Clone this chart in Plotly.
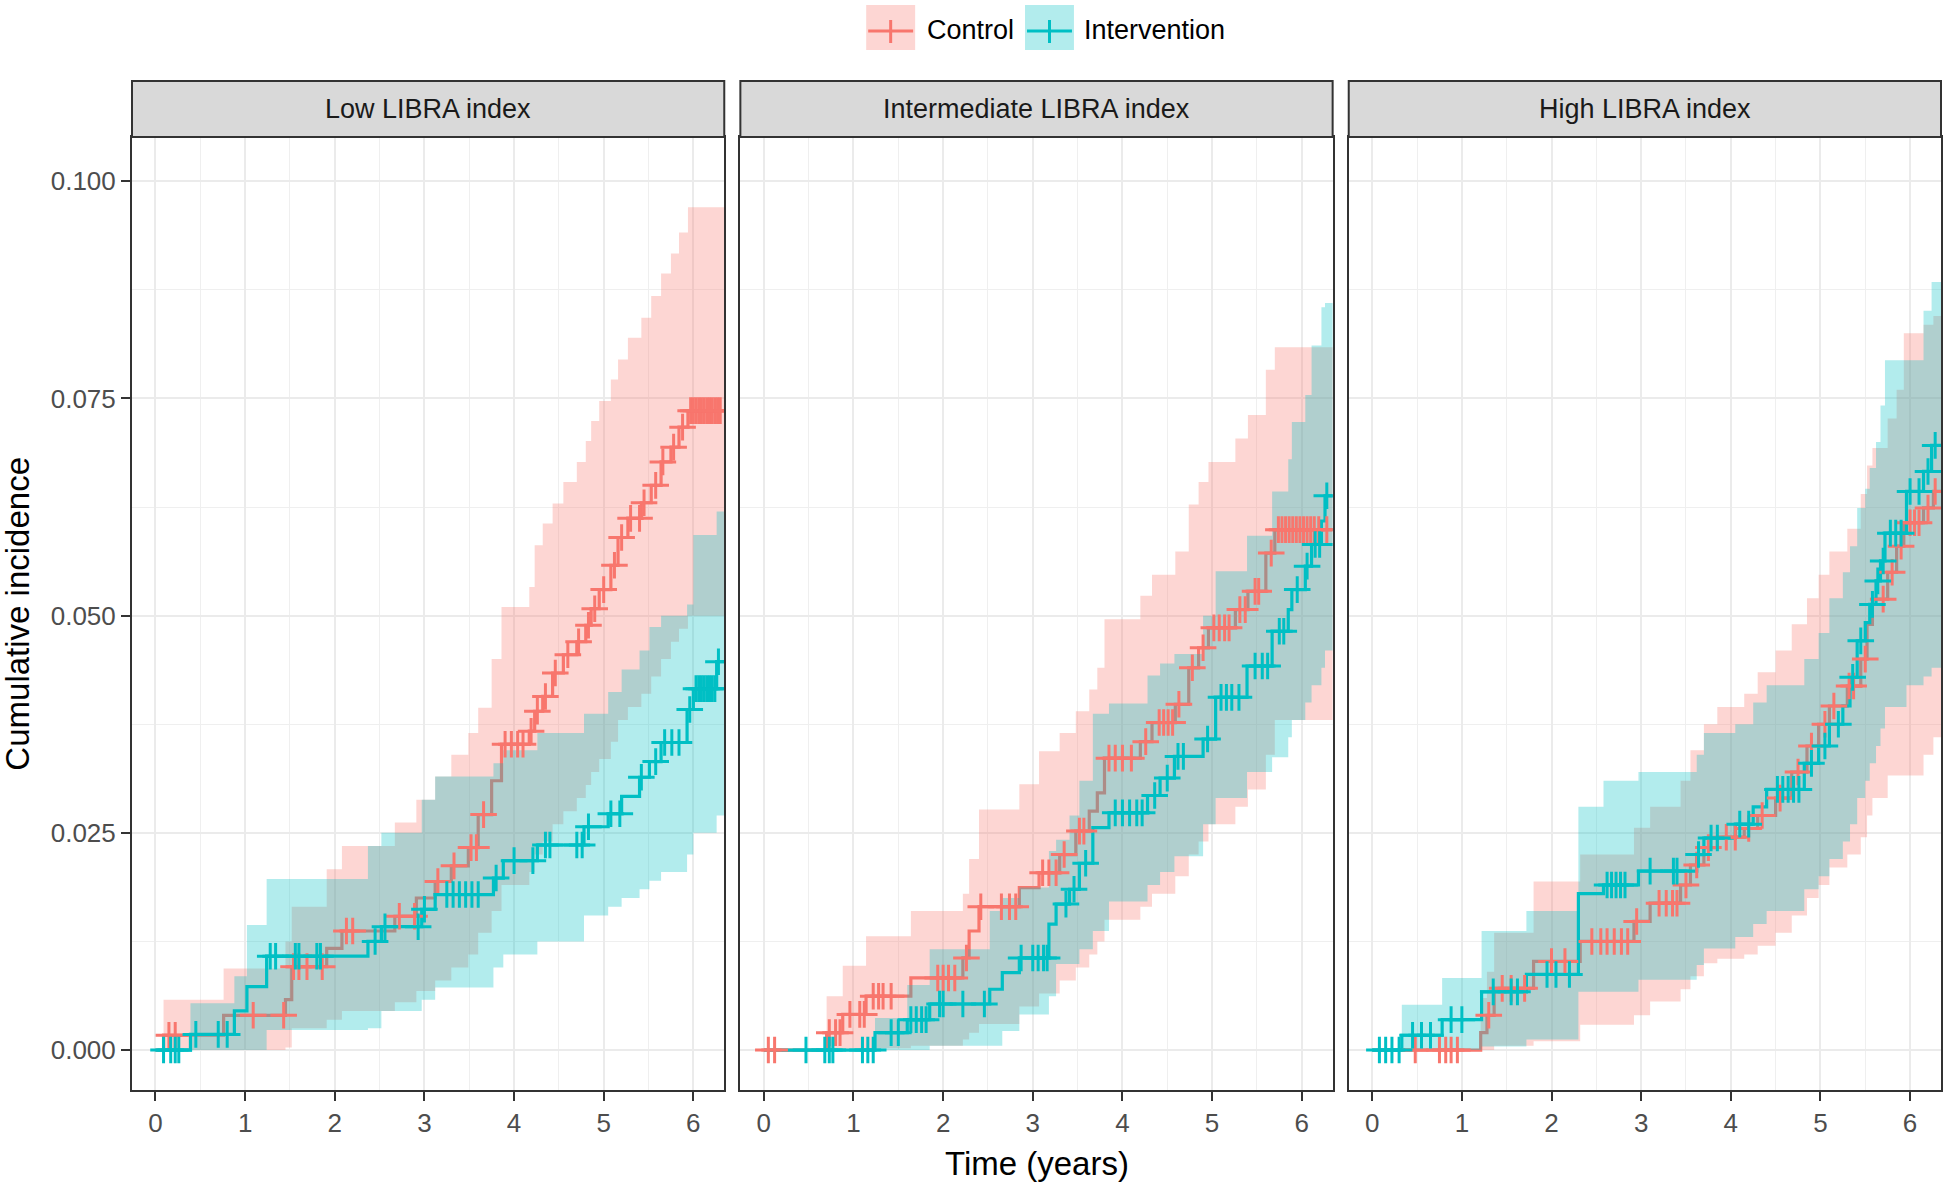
import numpy as np
import plotly.graph_objects as go

# ---------------- data ----------------
PANELS = ["Low LIBRA index", "Intermediate LIBRA index", "High LIBRA index"]
GROUPS = ["Control", "Intervention"]

# Low LIBRA index - Control
low_ctrl_t = [0, 0.09, 0.76, 1.45, 1.52, 1.91, 2.08, 2.67, 2.91, 3.12, 3.30, 3.49, 3.60, 3.75, 3.86, 4.17, 4.23,
              4.32, 4.43, 4.55, 4.70, 4.80, 4.86, 4.95, 5.08, 5.16, 5.27, 5.42, 5.53, 5.64, 5.75, 5.84, 5.94]
low_ctrl_est = [0, 0.0017, 0.0040, 0.0058, 0.0096, 0.0117, 0.0137, 0.0154, 0.0175, 0.0194, 0.0212, 0.0233, 0.0271,
                0.0310, 0.0352, 0.0367, 0.0390, 0.0407, 0.0434, 0.0455, 0.0470, 0.0489, 0.0508, 0.0530, 0.0558,
                0.0590, 0.0612, 0.0630, 0.0650, 0.0677, 0.0694, 0.0717, 0.0736]
low_ctrl_hi = [0, 0.0058, 0.0094, 0.0125, 0.0165, 0.0208, 0.0235, 0.0262, 0.0288, 0.0315, 0.0340, 0.0365, 0.0394,
               0.0450, 0.0510, 0.0533, 0.0581, 0.0606, 0.0629, 0.0654, 0.0677, 0.0701, 0.0724, 0.0747, 0.0772,
               0.0795, 0.0820, 0.0843, 0.0868, 0.0894, 0.0917, 0.0941, 0.0970]
low_ctrl_lo = [0, 0, 0, 0.0003, 0.0025, 0.0035, 0.0045, 0.0055, 0.0068, 0.0080, 0.0095, 0.0110, 0.0135, 0.0160,
               0.0190, 0.0205, 0.0225, 0.0240, 0.0260, 0.0275, 0.0290, 0.0305, 0.0320, 0.0335, 0.0355, 0.0380,
               0.0395, 0.0410, 0.0430, 0.0450, 0.0470, 0.0485, 0.0500]
low_ctrl_cens = [0.15, 0.22, 1.09, 1.43, 1.54, 1.60, 1.69, 1.86, 2.13, 2.20, 2.72, 2.89, 3.15, 3.33, 3.52, 3.58,
                 3.66, 3.90, 3.97, 4.04, 4.10, 4.19, 4.26, 4.35, 4.46, 4.60, 4.72, 4.83, 4.90, 5.00, 5.12, 5.20,
                 5.30, 5.40, 5.45, 5.58, 5.66, 5.78, 5.88, 5.97, 6.00, 6.03, 6.06, 6.09, 6.12, 6.15, 6.18, 6.21,
                 6.24, 6.27, 6.30]

# Low LIBRA index - Intervention
low_int_t = [0, 0.39, 0.88, 1.02, 1.24, 2.37, 2.52, 2.97, 3.12, 3.77, 3.88, 4.26, 4.78, 5.05, 5.20, 5.40, 5.51,
             5.64, 5.93, 6.00, 6.26]
low_int_est = [0, 0.0018, 0.0045, 0.0073, 0.0108, 0.0125, 0.0142, 0.0162, 0.0179, 0.0198, 0.0218, 0.0236, 0.0257,
               0.0272, 0.0292, 0.0314, 0.0332, 0.0354, 0.0392, 0.0416, 0.0447]
low_int_hi = [0, 0.0054, 0.0085, 0.0144, 0.0197, 0.0235, 0.0250, 0.0288, 0.0315, 0.0330, 0.0345, 0.0365, 0.0387,
              0.0412, 0.0438, 0.0460, 0.0487, 0.0500, 0.0513, 0.0593, 0.0620]
low_int_lo = [0, 0, 0, 0, 0.0023, 0.0025, 0.0045, 0.0058, 0.0072, 0.0095, 0.0110, 0.0125, 0.0155, 0.0165, 0.0175,
              0.0185, 0.0195, 0.0205, 0.0225, 0.0250, 0.0270]
low_int_cens = [0.09, 0.17, 0.22, 0.26, 0.45, 0.70, 0.80, 1.28, 1.34, 1.56, 1.60, 1.80, 1.84, 2.45, 2.56, 2.93,
                3.00, 3.25, 3.32, 3.39, 3.46, 3.53, 3.60, 3.80, 4.00, 4.21, 4.35, 4.40, 4.70, 4.76, 4.83, 5.08,
                5.18, 5.42, 5.58, 5.68, 5.76, 5.84, 5.96, 6.03, 6.06, 6.09, 6.12, 6.15, 6.18, 6.21, 6.24, 6.28]

# Intermediate LIBRA index - Control
mid_ctrl_t = [0, 0.70, 0.88, 1.14, 1.64, 2.22, 2.29, 2.40, 2.85, 3.07, 3.30, 3.48, 3.63, 3.72, 3.80, 4.20, 4.33,
              4.59, 4.74, 4.85, 4.96, 5.26, 5.40, 5.60, 5.70]
mid_ctrl_est = [0, 0.0020, 0.0041, 0.0062, 0.0083, 0.0106, 0.0137, 0.0165, 0.0187, 0.0204, 0.0225, 0.0252, 0.0275,
                0.0296, 0.0336, 0.0355, 0.0377, 0.0398, 0.0440, 0.0463, 0.0486, 0.0507, 0.0528, 0.0572, 0.0599]
mid_ctrl_hi = [0, 0.0062, 0.0097, 0.0131, 0.0160, 0.0180, 0.0220, 0.0277, 0.0306, 0.0344, 0.0365, 0.0390, 0.0415,
               0.0440, 0.0496, 0.0523, 0.0547, 0.0574, 0.0628, 0.0654, 0.0677, 0.0704, 0.0731, 0.0783, 0.0809]
mid_ctrl_lo = [0, 0, 0, 0.0002, 0.0005, 0.0012, 0.0020, 0.0030, 0.0050, 0.0065, 0.0080, 0.0095, 0.0110, 0.0125,
               0.0150, 0.0165, 0.0180, 0.0200, 0.0225, 0.0240, 0.0260, 0.0280, 0.0300, 0.0340, 0.0380]
mid_ctrl_cens = [0.05, 0.12, 0.73, 0.80, 0.85, 0.96, 1.07, 1.12, 1.22, 1.28, 1.33, 1.42, 1.94, 2.00, 2.06, 2.13,
                 2.26, 2.42, 2.65, 2.74, 2.81, 3.11, 3.18, 3.26, 3.35, 3.52, 3.57, 3.85, 3.92, 4.00, 4.10, 4.26,
                 4.41, 4.46, 4.51, 4.56, 4.63, 4.78, 4.90, 5.02, 5.08, 5.14, 5.19, 5.31, 5.37, 5.48, 5.52, 5.66,
                 5.74, 5.78, 5.82, 5.86, 5.90, 5.94, 5.98, 6.02, 6.06, 6.10, 6.14, 6.19, 6.28]

# Intermediate LIBRA index - Intervention
mid_int_t = [0, 1.24, 1.60, 1.85, 2.52, 2.66, 2.85, 3.18, 3.26, 3.41, 3.52, 3.67, 3.85, 4.28, 4.42, 4.58, 4.90,
             5.04, 5.39, 5.67, 5.85, 5.89, 6.04, 6.11, 6.22, 6.26]
mid_int_est = [0, 0.0020, 0.0035, 0.0053, 0.0070, 0.0089, 0.0106, 0.0145, 0.0168, 0.0185, 0.0215, 0.0256, 0.0273,
               0.0293, 0.0313, 0.0338, 0.0358, 0.0406, 0.0442, 0.0482, 0.0507, 0.0530, 0.0557, 0.0582, 0.0609,
               0.0638]
mid_int_hi = [0, 0.0037, 0.0075, 0.0116, 0.0160, 0.0175, 0.0187, 0.0229, 0.0242, 0.0270, 0.0310, 0.0387, 0.0399,
              0.0431, 0.0445, 0.0456, 0.0500, 0.0551, 0.0592, 0.0643, 0.0680, 0.0723, 0.0754, 0.0811, 0.0855, 0.0860]
mid_int_lo = [0, 0, 0, 0.0005, 0.0005, 0.0022, 0.0041, 0.0062, 0.0099, 0.0099, 0.0116, 0.0137, 0.0171, 0.0190,
              0.0205, 0.0223, 0.0260, 0.0290, 0.0320, 0.0337, 0.0360, 0.0380, 0.0400, 0.0420, 0.0440, 0.0460]
mid_int_cens = [0.47, 0.68, 0.73, 0.77, 1.10, 1.16, 1.22, 1.42, 1.50, 1.64, 1.70, 1.76, 1.81, 1.96, 2.00, 2.22,
                2.46, 2.87, 3.00, 3.06, 3.12, 3.16, 3.37, 3.46, 3.59, 3.92, 4.00, 4.08, 4.16, 4.22, 4.36, 4.50,
                4.62, 4.68, 4.95, 5.10, 5.16, 5.22, 5.30, 5.48, 5.56, 5.62, 5.75, 5.80, 5.95, 6.06, 6.15, 6.20, 6.28]

# High LIBRA index - Control
high_ctrl_t = [0, 1.21, 1.28, 1.36, 1.80, 2.32, 2.92, 3.10, 3.44, 3.55, 3.70, 3.85, 4.15, 4.30, 4.50, 4.68, 4.85,
               4.98, 5.10, 5.30, 5.45, 5.52, 5.58, 5.75, 5.85, 5.93, 6.15, 6.26]
high_ctrl_est = [0, 0.0020, 0.0040, 0.0071, 0.0102, 0.0125, 0.0148, 0.0169, 0.0190, 0.0213, 0.0233, 0.0245,
                 0.0255, 0.0270, 0.0290, 0.0320, 0.0350, 0.0375, 0.0396, 0.0419, 0.0450, 0.0490, 0.0519, 0.0550,
                 0.0580, 0.0607, 0.0624, 0.0643]
high_ctrl_hi = [0, 0.0060, 0.0090, 0.0135, 0.0194, 0.0225, 0.0256, 0.0280, 0.0310, 0.0345, 0.0375, 0.0395, 0.0410,
                0.0435, 0.0460, 0.0490, 0.0520, 0.0547, 0.0574, 0.0600, 0.0640, 0.0673, 0.0693, 0.0727, 0.0760,
                0.0825, 0.0835, 0.0845]
high_ctrl_lo = [0, 0, 0, 0.0005, 0.0010, 0.0029, 0.0040, 0.0056, 0.0070, 0.0085, 0.0100, 0.0105, 0.0110, 0.0120,
                0.0135, 0.0155, 0.0175, 0.0190, 0.0210, 0.0225, 0.0245, 0.0270, 0.0290, 0.0316, 0.0316, 0.0316,
                0.0340, 0.0360]
high_ctrl_cens = [0.48, 0.75, 0.82, 0.88, 0.95, 1.30, 1.45, 1.55, 1.70, 2.00, 2.15, 2.45, 2.55, 2.62, 2.70, 2.78,
                  2.85, 2.95, 3.20, 3.28, 3.35, 3.40, 3.50, 3.62, 3.75, 3.95, 4.05, 4.20, 4.35, 4.55, 4.75, 4.90,
                  5.05, 5.15, 5.32, 5.37, 5.50, 5.70, 5.80, 5.90, 6.00, 6.05, 6.10, 6.20, 6.28]

# High LIBRA index - Intervention
high_int_t = [0, 0.33, 0.78, 1.22, 1.72, 2.30, 2.58, 2.97, 3.62, 3.70, 4.05, 4.25, 4.40, 4.82, 4.98, 5.10, 5.25,
              5.33, 5.41, 5.50, 5.55, 5.62, 5.67, 5.72, 5.96, 6.15, 6.24]
high_int_est = [0, 0.0017, 0.0035, 0.0067, 0.0087, 0.0180, 0.0190, 0.0206, 0.0225, 0.0244, 0.0260, 0.0280, 0.0300,
                0.0330, 0.0350, 0.0375, 0.0396, 0.0429, 0.0471, 0.0492, 0.0513, 0.0540, 0.0563, 0.0595, 0.0643,
                0.0666, 0.0696]
high_int_hi = [0, 0.0052, 0.0083, 0.0137, 0.0160, 0.0280, 0.0310, 0.0320, 0.0340, 0.0365, 0.0375, 0.0400, 0.0420,
               0.0450, 0.0480, 0.0520, 0.0550, 0.0580, 0.0624, 0.0646, 0.0670, 0.0700, 0.0742, 0.0794, 0.0794,
               0.0851, 0.0884]
high_int_lo = [0, 0, 0, 0.0004, 0.0012, 0.0067, 0.0067, 0.0081, 0.0098, 0.0117, 0.0130, 0.0145, 0.0160, 0.0185,
               0.0200, 0.0220, 0.0240, 0.0260, 0.0290, 0.0310, 0.0330, 0.0350, 0.0370, 0.0395, 0.0420, 0.0430,
               0.0440]
high_int_cens = [0.08, 0.15, 0.22, 0.30, 0.45, 0.55, 0.65, 0.88, 1.00, 1.35, 1.55, 1.62, 1.95, 2.05, 2.20, 2.62,
                 2.67, 2.72, 2.77, 2.82, 3.10, 3.36, 3.40, 3.64, 3.78, 3.85, 4.10, 4.20, 4.52, 4.58, 4.64, 4.70,
                 4.76, 4.90, 5.05, 5.20, 5.36, 5.45, 5.58, 5.64, 5.70, 5.78, 5.84, 5.90, 6.00, 6.10, 6.20, 6.28]

X_TICKS = [0, 1, 2, 3, 4, 5, 6]
Y_TICKS = [0.0, 0.025, 0.05, 0.075, 0.1]
X_TITLE = "Time (years)"
Y_TITLE = "Cumulative incidence"

SERIES = [
    [(low_ctrl_t, low_ctrl_est, low_ctrl_lo, low_ctrl_hi, low_ctrl_cens),
     (low_int_t, low_int_est, low_int_lo, low_int_hi, low_int_cens)],
    [(mid_ctrl_t, mid_ctrl_est, mid_ctrl_lo, mid_ctrl_hi, mid_ctrl_cens),
     (mid_int_t, mid_int_est, mid_int_lo, mid_int_hi, mid_int_cens)],
    [(high_ctrl_t, high_ctrl_est, high_ctrl_lo, high_ctrl_hi, high_ctrl_cens),
     (high_int_t, high_int_est, high_int_lo, high_int_hi, high_int_cens)],
]

# ---------------- style ----------------
W, H = 1946, 1183
ML, MR, MT, MB = 132, 3, 137, 93
COLORS = ["#F8766D", "#00BFC4"]
FILLS = ["rgba(248,118,109,0.30)", "rgba(0,191,196,0.30)"]
FONT = "Liberation Sans, Arial, sans-serif"
BORDER = "#333333"
END_T = 6.6
XR = [-0.262, 6.345]
YR = [-0.0046, 0.1051]
DOMAINS = [[0.0, 0.3274], [0.3363, 0.6637], [0.6726, 1.0]]

PW = W - ML - MR
PH = H - MT - MB


def px2x(px):
    return (px - ML) / PW


def px2y(py):
    return (H - MB - py) / PH


def ext(t, v):
    return list(t) + [END_T], list(v) + [v[-1]]


def step_at(t, v, q):
    idx = np.searchsorted(np.asarray(t), np.asarray(q), side="right") - 1
    return np.asarray(v)[idx]


fig = go.Figure()

for p in range(3):
    xa = "x" if p == 0 else f"x{p + 1}"
    ya = "y" if p == 0 else f"y{p + 1}"
    groups = SERIES[p]
    for g, (t, est, lo, hi, cens) in enumerate(groups):
        xs, los = ext(t, lo)
        _, his = ext(t, hi)
        _, ests = ext(t, est)
        fig.add_trace(go.Scatter(x=xs, y=los, mode="lines", line=dict(width=0, shape="hv", color=COLORS[g]),
                                 xaxis=xa, yaxis=ya, showlegend=False, hoverinfo="skip"))
        fig.add_trace(go.Scatter(x=xs, y=his, mode="lines", line=dict(width=0, shape="hv", color=COLORS[g]),
                                 fill="tonexty", fillcolor=FILLS[g],
                                 xaxis=xa, yaxis=ya, showlegend=False, hoverinfo="skip"))
        fig.add_trace(go.Scatter(x=xs, y=ests, mode="lines", line=dict(width=3.2, shape="hv", color=COLORS[g]),
                                 xaxis=xa, yaxis=ya, showlegend=False, name=GROUPS[g]))
    for g, (t, est, lo, hi, cens) in enumerate(groups):
        cy = step_at(t, est, cens)
        fig.add_trace(go.Scatter(x=cens, y=cy, mode="markers",
                                 marker=dict(symbol="cross-thin", size=19, color=COLORS[g],
                                             line=dict(color=COLORS[g], width=3)),
                                 xaxis=xa, yaxis=ya, showlegend=False, hoverinfo="skip"))

layout = dict(
    width=W, height=H,
    margin=dict(l=ML, r=MR, t=MT, b=MB, pad=0),
    paper_bgcolor="white", plot_bgcolor="white",
    showlegend=False,
    font=dict(family=FONT, color="#000000"),
)

for p in range(3):
    xkey = "xaxis" if p == 0 else f"xaxis{p + 1}"
    ykey = "yaxis" if p == 0 else f"yaxis{p + 1}"
    ya = "y" if p == 0 else f"y{p + 1}"
    xa = "x" if p == 0 else f"x{p + 1}"
    layout[xkey] = dict(
        domain=DOMAINS[p], anchor=ya, range=XR,
        tickmode="array", tickvals=X_TICKS, ticktext=[str(v) for v in X_TICKS],
        ticks="outside", ticklen=9, tickwidth=2, tickcolor=BORDER,
        showline=True, mirror=True, linecolor=BORDER, linewidth=2,
        showgrid=True, gridcolor="#EBEBEB", gridwidth=2.4, zeroline=False,
        minor=dict(tickmode="linear", tick0=0, dtick=0.5, showgrid=True, gridcolor="#EFEFEF", gridwidth=1.4,
                   ticks=""),
        tickfont=dict(family=FONT, size=26, color="#4D4D4D"),
    )
    layout[ykey] = dict(
        domain=[0, 1], anchor=xa, range=YR,
        tickmode="array", tickvals=Y_TICKS, ticktext=[f"{v:.3f}" for v in Y_TICKS],
        ticks="outside" if p == 0 else "", ticklen=9, tickwidth=2, tickcolor=BORDER,
        showticklabels=(p == 0),
        showline=True, mirror=True, linecolor=BORDER, linewidth=2,
        showgrid=True, gridcolor="#EBEBEB", gridwidth=2.4, zeroline=False,
        minor=dict(tickmode="linear", tick0=0, dtick=0.0125, showgrid=True, gridcolor="#EFEFEF", gridwidth=1.4,
                   ticks=""),
        tickfont=dict(family=FONT, size=26, color="#4D4D4D"),
    )
    if p > 0:
        layout[ykey]["matches"] = "y"

shapes = []
annotations = []
strip_top = px2y(81)
for p in range(3):
    shapes.append(dict(type="rect", xref="paper", yref="paper", x0=DOMAINS[p][0], x1=DOMAINS[p][1],
                       y0=1.0, y1=strip_top, fillcolor="#D9D9D9", line=dict(color=BORDER, width=2),
                       layer="above"))
    annotations.append(dict(text=PANELS[p], xref="paper", yref="paper",
                            x=(DOMAINS[p][0] + DOMAINS[p][1]) / 2, y=(1.0 + strip_top) / 2,
                            xanchor="center", yanchor="middle", showarrow=False,
                            font=dict(family=FONT, size=27, color="#1A1A1A")))

annotations.append(dict(text=X_TITLE, xref="paper", yref="paper", x=0.5, y=px2y(1163),
                        xanchor="center", yanchor="middle", showarrow=False,
                        font=dict(family=FONT, size=33, color="#000000")))
annotations.append(dict(text=Y_TITLE, xref="paper", yref="paper", x=px2x(17), y=0.5, textangle=-90,
                        xanchor="center", yanchor="middle", showarrow=False,
                        font=dict(family=FONT, size=33, color="#000000")))

# legend (drawn manually: filled key, line and cross)
key_left = [867, 1026]
text_left = [926, 1083]
for g in range(2):
    x0, x1 = key_left[g], key_left[g] + 49
    cx = (x0 + x1) / 2
    shapes.append(dict(type="rect", xref="paper", yref="paper", x0=px2x(x0), x1=px2x(x1),
                       y0=px2y(50), y1=px2y(5), fillcolor=FILLS[g], line=dict(width=0)))
    shapes.append(dict(type="line", xref="paper", yref="paper", x0=px2x(x0 + 2), x1=px2x(x1 - 2),
                       y0=px2y(31), y1=px2y(31), line=dict(color=COLORS[g], width=3.2)))
    shapes.append(dict(type="line", xref="paper", yref="paper", x0=px2x(cx), x1=px2x(cx),
                       y0=px2y(20), y1=px2y(43), line=dict(color=COLORS[g], width=3)))
    annotations.append(dict(text=GROUPS[g], xref="paper", yref="paper", x=px2x(text_left[g]), y=px2y(30),
                            xanchor="left", yanchor="middle", showarrow=False,
                            font=dict(family=FONT, size=27, color="#000000")))

layout["shapes"] = shapes
layout["annotations"] = annotations
fig.update_layout(**layout)

fig.write_html("out.html", config={"displayModeBar": False},
               post_script="document.body.style.margin='0';document.body.style.overflow='hidden';")
